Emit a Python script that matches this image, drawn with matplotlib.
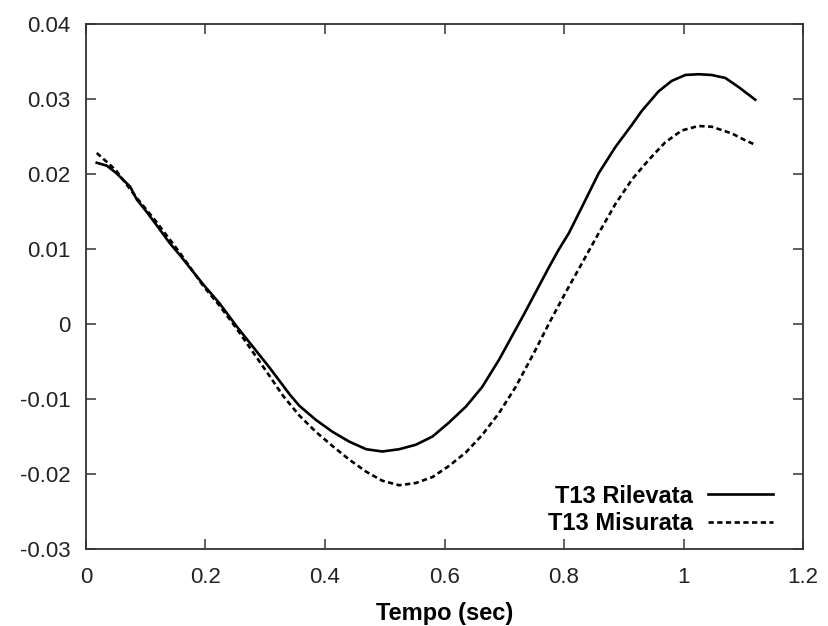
import matplotlib.pyplot as plt

# T13 Rilevata (solid)
t_ril = [0.018, 0.035, 0.051, 0.074, 0.085, 0.101, 0.118, 0.140, 0.157, 0.174,
         0.196, 0.224, 0.252, 0.279, 0.307, 0.341, 0.357, 0.385, 0.413, 0.441,
         0.469, 0.496, 0.524, 0.552, 0.580, 0.608, 0.636, 0.663, 0.691, 0.733,
         0.775, 0.791, 0.808, 0.830, 0.858, 0.886, 0.914, 0.930, 0.958, 0.980,
         1.003, 1.025, 1.047, 1.070, 1.092, 1.120]
v_ril = [0.0215, 0.0211, 0.0201, 0.0183, 0.0166, 0.0150, 0.0132, 0.0108, 0.0092, 0.0075,
         0.0053, 0.0027, -0.0003, -0.0030, -0.0058, -0.0094, -0.0109, -0.0128, -0.0144, -0.0157,
         -0.0167, -0.0170, -0.0167, -0.0161, -0.0150, -0.0131, -0.0110, -0.0084, -0.0048, 0.0013,
         0.0076, 0.0099, 0.0121, 0.0156, 0.0201, 0.0236, 0.0266, 0.0284, 0.0310, 0.0324,
         0.0332, 0.0333, 0.0332, 0.0328, 0.0316, 0.0299]

# T13 Misurata (dashed)
t_mis = [0.018, 0.035, 0.050, 0.085, 0.118, 0.157, 0.196, 0.224, 0.252, 0.279,
         0.307, 0.330, 0.357, 0.385, 0.413, 0.441, 0.469, 0.496, 0.524, 0.552,
         0.580, 0.608, 0.636, 0.663, 0.691, 0.719, 0.752, 0.775, 0.802, 0.830,
         0.858, 0.886, 0.914, 0.942, 0.969, 0.997, 1.025, 1.047, 1.081, 1.103,
         1.120]
v_mis = [0.0228, 0.0216, 0.0205, 0.0168, 0.0136, 0.0095, 0.0051, 0.0024, -0.0006, -0.0037,
         -0.0069, -0.0096, -0.0122, -0.0144, -0.0163, -0.0181, -0.0197, -0.0209, -0.0215, -0.0212,
         -0.0204, -0.0189, -0.0171, -0.0148, -0.0119, -0.0084, -0.0035, 0.0001, 0.0041, 0.0081,
         0.0121, 0.0160, 0.0193, 0.0219, 0.0242, 0.0258, 0.0264, 0.0263, 0.0254, 0.0245,
         0.0239]

x_ticks = [0, 0.2, 0.4, 0.6, 0.8, 1, 1.2]
x_labels = ["0", "0.2", "0.4", "0.6", "0.8", "1", "1.2"]
y_ticks = [-0.03, -0.02, -0.01, 0, 0.01, 0.02, 0.03, 0.04]
y_labels = ["-0.03", "-0.02", "-0.01", "0", "0.01", "0.02", "0.03", "0.04"]

plt.rcParams["font.family"] = ["Liberation Sans", "DejaVu Sans"]

fig = plt.figure(figsize=(8.29, 6.26), dpi=100)
ax = fig.add_axes([0.1037, 0.123, 0.865, 0.8387])

ax.plot(t_ril, v_ril, color="black", lw=1.9, label="T13 Rilevata")
ax.plot(t_mis, v_mis, color="black", lw=1.9, dashes=(2.0, 1.3), label="T13 Misurata")

ax.set_xlim(0, 1.2)
ax.set_ylim(-0.03, 0.04)
ax.set_xticks(x_ticks, x_labels)
ax.set_yticks(y_ticks, y_labels)
ax.tick_params(direction="in", length=7, width=1.1, top=True, right=True,
               labelsize=16, colors="#333333", labelcolor="#222222")
ax.tick_params(axis="x", pad=13)
ax.tick_params(axis="y", pad=11)
for s in ax.spines.values():
    s.set_linewidth(1.3)
    s.set_color("#333333")

ax.set_xlabel("Tempo (sec)", fontsize=17, fontweight="bold", labelpad=10)

leg = ax.legend(loc="lower right", bbox_to_anchor=(0.958, 0.026), frameon=False,
                markerfirst=False, handlelength=2.75, handletextpad=0.65,
                labelspacing=0.2, borderpad=0, borderaxespad=0,
                prop={"size": 17, "weight": "bold"})

fig.savefig("out.png", dpi=100)
